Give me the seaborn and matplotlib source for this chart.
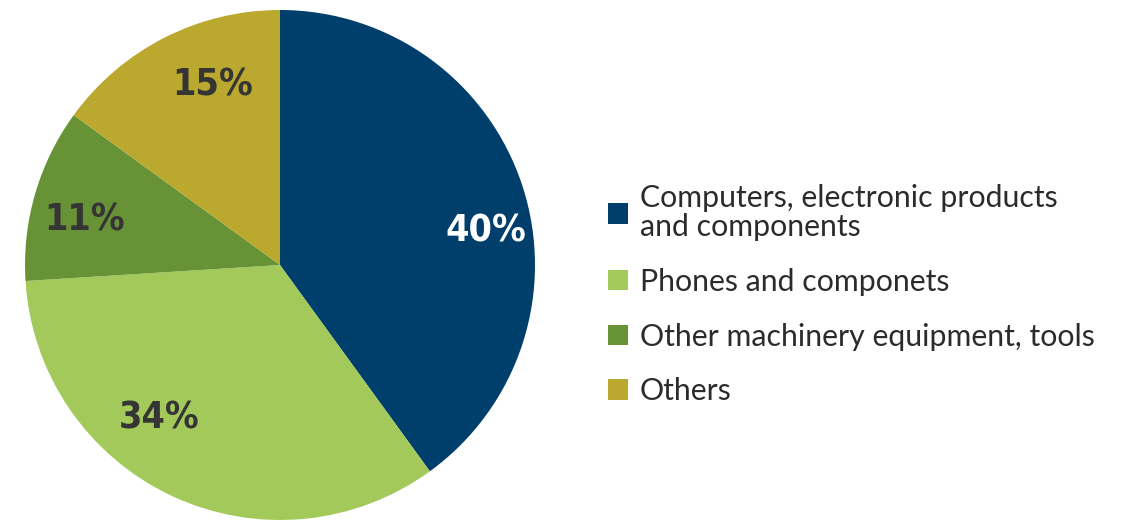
import numpy as np
import matplotlib
matplotlib.use("Agg")
import matplotlib.pyplot as plt
from matplotlib.patches import Patch
import seaborn as sns

sns.set_theme(style="white")
plt.rcParams["font.family"] = ["Lato", "DejaVu Sans"]

categories = [
    "Computers, electronic products\nand components",
    "Phones and componets",
    "Other machinery equipment, tools",
    "Others",
]
shares = [40, 34, 11, 15]
colors = ["#003E6B", "#A2C95A", "#679235", "#BBA82E"]
label_colors = ["white", "#353535", "#353535", "#353535"]
# angular nudge (degrees) and radial distance of each percentage label
label_shift = [-7.5, -14, 2, -7]
label_dist = [0.82, 0.75, 0.79, 0.77]

fig = plt.figure(figsize=(11.26, 5.27), dpi=100)
W, H = 1126, 527
cx, cy, r = 280, 265, 255
ax = fig.add_axes([(cx - r) / W, (H - cy - r) / H, 2 * r / W, 2 * r / H])

wedges, texts, autotexts = ax.pie(
    shares,
    colors=colors,
    startangle=90,
    counterclock=False,
    radius=1,
    autopct="%d%%",
    pctdistance=0.79,
    wedgeprops=dict(linewidth=0),
)
for w, t, c, da, d in zip(wedges, autotexts, label_colors, label_shift, label_dist):
    mid = np.deg2rad((w.theta1 + w.theta2) / 2 + da)
    t.set_position((d * np.cos(mid), d * np.sin(mid) - 0.02))
    t.set_color(c)
    t.set_fontsize(27)
    t.set_fontweight("bold")
    t.set_fontstretch("condensed")
    t.set_family(["DejaVu Sans"])
ax.set_xlim(-1, 1)
ax.set_ylim(-1, 1)
ax.set_aspect("equal")
ax.axis("off")

handles = [Patch(facecolor=c, edgecolor="none") for c in colors]
leg = fig.legend(
    handles,
    categories,
    loc="upper left",
    bbox_to_anchor=(593 / W, 1 - 169 / H),
    frameon=False,
    fontsize=21.8,
    labelcolor="#2b2b2b",
    handlelength=0.65,
    handleheight=0.65,
    handletextpad=0.4,
    labelspacing=0.88,
    borderpad=0,
)
leg.get_texts()[0].set_linespacing(1.05)

fig.savefig("out.png", dpi=100, facecolor="white")
